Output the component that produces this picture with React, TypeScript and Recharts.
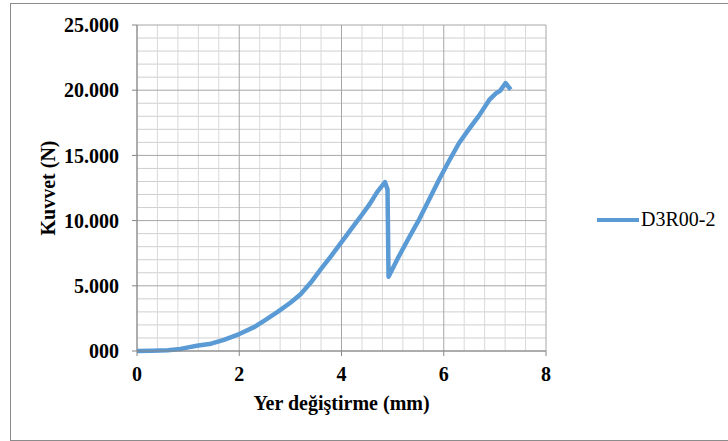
import { CartesianGrid, Label, Legend, Line, LineChart, XAxis, YAxis } from "recharts";

// Yer değiştirme (mm) and kuvvet (N)
const displacement = [
  0, 0.3, 0.6, 0.85, 1.0, 1.2, 1.45, 1.7, 2.0, 2.3, 2.5, 2.75, 3.0, 3.2, 3.4, 3.6, 3.8, 4.0, 4.2, 4.4,
  4.54, 4.7, 4.85, 4.9, 4.92, 5.1, 5.3, 5.52, 5.7, 5.91, 6.1, 6.3, 6.5, 6.69, 6.89, 7.02, 7.1, 7.21, 7.31,
];
const force = [
  0, 20, 60, 150, 280, 420, 560, 850, 1300, 1850, 2350, 3000, 3700, 4350, 5250, 6300, 7300, 8350, 9400, 10450,
  11200, 12200, 12950, 12400, 5700, 7100, 8550, 10100, 11500, 13150, 14550, 15950, 17050, 18050, 19250, 19750,
  19950, 20550, 20050,
];

const xTicks = [0, 2, 4, 6, 8];
const yTicks = [0, 5000, 10000, 15000, 20000, 25000];
const xMinor = [0.4, 0.8, 1.2, 1.6, 2.4, 2.8, 3.2, 3.6, 4.4, 4.8, 5.2, 5.6, 6.4, 6.8, 7.2, 7.6];
const yMinor = [
  1000, 2000, 3000, 4000, 6000, 7000, 8000, 9000, 11000, 12000, 13000, 14000, 16000, 17000, 18000, 19000,
  21000, 22000, 23000, 24000,
];

const seriesName = "D3R00-2";
const lineColor = "#5B9BD5";
const axisColor = "#868686";
const font = "'Liberation Serif', 'Times New Roman', serif";

const data = displacement.map((x, i) => ({ x, y: force[i] }));

// Excel "#.000" style with Turkish separators: 25000 -> "25.000", 0 -> "000"
function formatForce(v: number) {
  if (v === 0) return "000";
  return `${Math.floor(v / 1000)}.${String(v % 1000).padStart(3, "0")}`;
}

const tickStyle = { fill: "#000", fontSize: 20, fontWeight: 700, fontFamily: font };

function LegendBox() {
  return (
    <div style={{ display: "flex", alignItems: "center", fontFamily: font, fontSize: 20, color: "#000" }}>
      <svg width={42} height={8}>
        <line x1={0} y1={4} x2={42} y2={4} stroke={lineColor} strokeWidth={4} strokeLinecap="round" />
      </svg>
      <span style={{ marginLeft: 2 }}>{seriesName}</span>
    </div>
  );
}

export default function App() {
  return (
    <div style={{ position: "absolute", left: 0, top: 0, width: 728, height: 441, background: "#fff" }}>
      <div
        style={{
          position: "absolute",
          left: 10,
          top: 3,
          width: 740,
          height: 438,
          boxSizing: "border-box",
          border: "1px solid #8c8c8c",
        }}
      />
      <LineChart
        width={728}
        height={441}
        data={data}
        margin={{ top: 25, right: 182, bottom: 30, left: 10 }}
        style={{ position: "absolute", left: 0, top: 0 }}
      >
        <CartesianGrid stroke="#cfcfcf" vertical={false} horizontalValues={yMinor} />
        <CartesianGrid stroke="#d9d9d9" horizontal={false} verticalValues={xMinor} />
        <CartesianGrid stroke="#a6a6a6" horizontalValues={yTicks} verticalValues={xTicks} />
        <XAxis
          type="number"
          dataKey="x"
          domain={[0, 8]}
          ticks={xTicks}
          interval={0}
          height={60}
          stroke={axisColor}
          tickSize={5}
          tickMargin={11}
          tick={tickStyle}
        >
          <Label
            value="Yer değiştirme (mm)"
            position="insideBottom"
            offset={1}
            style={{ fill: "#000", fontSize: 20, fontWeight: 700, fontFamily: font }}
          />
        </XAxis>
        <YAxis
          type="number"
          domain={[0, 25000]}
          ticks={yTicks}
          interval={0}
          width={127}
          stroke={axisColor}
          tickSize={5}
          tickMargin={13}
          tick={tickStyle}
          tickFormatter={formatForce}
        >
          <Label
            value="Kuvvet (N)"
            position="center"
            angle={-90}
            dx={-26}
            style={{ fill: "#000", fontSize: 20, fontWeight: 700, fontFamily: font, textAnchor: "middle" }}
          />
        </YAxis>
        <Legend
          layout="vertical"
          align="center"
          verticalAlign="middle"
          content={() => <LegendBox />}
          wrapperStyle={{ left: 597, top: 208, width: 130 }}
        />
        <Line
          type="linear"
          dataKey="y"
          name={seriesName}
          stroke={lineColor}
          strokeWidth={4.5}
          strokeLinejoin="round"
          dot={false}
          isAnimationActive={false}
        />
      </LineChart>
    </div>
  );
}
